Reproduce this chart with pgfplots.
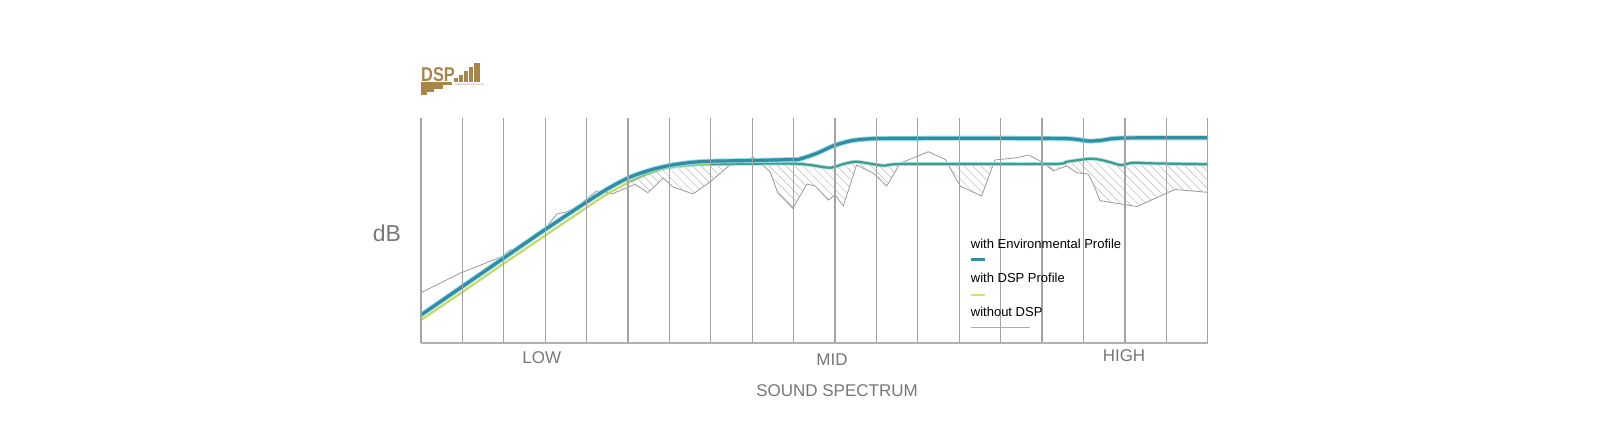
\documentclass[border=0pt]{standalone}
\usepackage{fontspec}
\setmainfont{Liberation Sans}
\usepackage{pgfplots}
\usepackage{pgfplotstable}
\pgfplotsset{compat=1.18}
\usetikzlibrary{patterns.meta}
\definecolor{teal1}{HTML}{358CA2}
\definecolor{tealhalo}{HTML}{8FE0EA}
\definecolor{dspA}{HTML}{C3DB62}
\definecolor{dspB}{HTML}{8CC572}
\definecolor{dspC}{HTML}{479A8A}
\definecolor{dsphalo}{HTML}{A8E6E6}
\definecolor{graycurve}{HTML}{9A9A9A}
\definecolor{gridgray}{HTML}{A3A3A3}
\definecolor{labelgray}{HTML}{777777}
\definecolor{gold}{HTML}{A8864A}
\definecolor{legyellow}{HTML}{D6E07A}

\pgfplotstableread{
x y
0 28
1 56.5
2 85
3 113.5
4 141
4.5 154
5 165
5.5 172.5
6 177.5
6.5 180.5
7 181.8
8 182.5
9 183.5
9.15 184
9.56 189.7
9.95 197
10.36 202
10.77 204
11.5 204.7
15 204.7
15.75 204
16.1 202
16.4 202.5
16.96 205
19 205.2
}\envdata

\pgfplotstableread{
x y
0 23
1 51
2 79.5
3 107.5
4 135.5
4.5 149
5 160.5
5.5 169.5
6 175.7
6.5 178
7 178.8
8 179.3
9 179.3
9.4 178
9.88 175.3
10.2 179
10.5 181.3
10.8 179.7
11.2 177.3
11.7 179
15.2 179
15.6 181.3
16.2 184.3
16.6 181.3
16.9 178
17.2 180.3
17.6 179.7
19 178.7
}\dspdata

\pgfplotstableread{
x y
0 50.3
0.94 69.7
1.95 86.3
2.15 93
2.35 95
2.95 112
3.28 129
3.52 131.3
3.75 136
4.24 152
4.64 149.5
5.17 158.7
5.48 150.3
5.85 165
6.09 156
6.57 149
6.98 161
7.46 178
8.02 185.7
8.12 183
8.43 171.3
8.62 149.7
8.98 134.7
9.32 159
9.52 157
9.84 143
10.0 148
10.2 137
10.52 178
10.93 169.7
11.25 157
11.57 179.7
12.25 191.3
12.66 183.7
13.02 157
13.54 147
13.86 183
14.39 185.3
14.67 188
14.99 181.3
15.27 172.3
15.6 177
15.84 170.3
16.11 169
16.23 159.7
16.4 142.3
17.29 136.5
18.21 153.5
19 150.7
}\nodspdata

\begin{document}
\begin{tikzpicture}
\useasboundingbox (0pt,0pt) rectangle (1600pt,432pt);
\begin{axis}[
  at={(421pt,89pt)}, anchor=south west,
  scale only axis, width=786.7pt, height=225.3pt,
  xmin=0, xmax=19, ymin=0, ymax=225.3,
  axis x line*=bottom, axis y line=none,
  xtick={0,...,19}, ytick=\empty,
  xticklabel={\relax},
  major tick length=0pt,
  xmajorgrids,
  grid style={color=gridgray, line width=1.2pt},
  x axis line style={color=gridgray!85, line width=1.6pt},
  axis on top,
]
% hatched area between curves (below DSP, above no-DSP)
\addplot[draw=none, pattern={Lines[angle=-45, distance=6pt, line width=0.5pt]}, pattern color=black!28] table[x=x,y=y]{\dspdata} \closedcycle;
\addplot[draw=none, fill=white] table[x=x,y=y]{\nodspdata} \closedcycle;
% without DSP
\addplot[graycurve, line width=0.8pt] table[x=x,y=y]{\nodspdata};
% with DSP profile
\addplot[dsphalo, line width=3.8pt, smooth, tension=0.5, restrict x to domain=6:19] table[x=x,y=y]{\dspdata};
\addplot[dspA, line width=2.2pt, smooth, tension=0.5, restrict x to domain=0:5] table[x=x,y=y]{\dspdata};
\addplot[dspB, line width=2.2pt, smooth, tension=0.5, restrict x to domain=5:7] table[x=x,y=y]{\dspdata};
\addplot[dspC, line width=2.2pt, smooth, tension=0.5, restrict x to domain=7:19] table[x=x,y=y]{\dspdata};
% with environmental profile
\addplot[tealhalo, line width=5pt, smooth, tension=0.5] table[x=x,y=y]{\envdata};
\addplot[teal1, line width=3.2pt, smooth, tension=0.5] table[x=x,y=y]{\envdata};
\end{axis}

% axis texts
\node[text=labelgray, font=\fontsize{23pt}{26pt}\selectfont] at (387pt,199pt) {dB};
\node[text=labelgray, font=\fontsize{17pt}{20pt}\selectfont] at (541.7pt,74pt) {LOW};
\node[text=labelgray, font=\fontsize{17pt}{20pt}\selectfont] at (832pt,72pt) {MID};
\node[text=labelgray, font=\fontsize{17pt}{20pt}\selectfont] at (1124pt,76pt) {HIGH};
\node[text=labelgray, font=\fontsize{17pt}{20pt}\selectfont] at (837pt,41pt) {SOUND SPECTRUM};

% legend
\node[anchor=base west, inner sep=0pt, font=\fontsize{13pt}{15pt}\selectfont] at (970.7pt,184pt) {with Environmental Profile};
\draw[teal1, line width=3pt] (971pt,172.3pt) -- (985pt,172.3pt);
\node[anchor=base west, inner sep=0pt, font=\fontsize{13pt}{15pt}\selectfont] at (970.7pt,149.3pt) {with DSP Profile};
\draw[legyellow, line width=2pt] (971pt,137.3pt) -- (985pt,137.3pt);
\node[anchor=base west, inner sep=0pt, font=\fontsize{13pt}{15pt}\selectfont] at (970.7pt,115.3pt) {without DSP};
\draw[graycurve!80, line width=1.5pt] (971pt,104.3pt) -- (1030pt,104.3pt);

% DSP logo
\node[anchor=base west, inner sep=0pt, text=gold, xscale=0.82, font=\bfseries\fontsize{20pt}{20pt}\selectfont] at (421pt,350pt) {DSP};
\fill[gold] (454pt,350.3pt) rectangle (457.8pt,354.3pt);
\fill[gold] (458.6pt,350.3pt) rectangle (463pt,357pt);
\fill[gold] (463.8pt,350.3pt) rectangle (468.2pt,361pt);
\fill[gold] (469pt,350.3pt) rectangle (473.4pt,365.3pt);
\fill[gold] (474.2pt,350.3pt) rectangle (479.5pt,368.7pt);
\fill[gold] (421pt,350pt) rectangle (452pt,346.7pt);
\fill[gold] (421pt,346.7pt) rectangle (443pt,343.3pt);
\fill[gold] (421pt,343.3pt) rectangle (434pt,340pt);
\fill[gold] (421pt,340pt) rectangle (427pt,336.5pt);
\node[anchor=base west, inner sep=0pt, text=gold, font=\fontsize{2.6pt}{3pt}\selectfont] at (455pt,346.5pt) {Digital Signal Processing};
\end{tikzpicture}
\end{document}
